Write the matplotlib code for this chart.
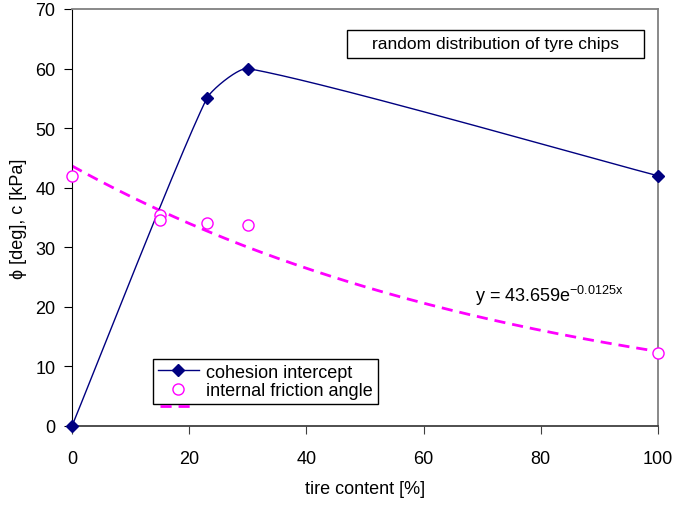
import matplotlib
matplotlib.use('Agg')
import matplotlib.pyplot as plt
from matplotlib.lines import Line2D
from matplotlib.patches import Rectangle
import numpy as np

plt.rcParams['font.family'] = ['Liberation Sans', 'DejaVu Sans']
plt.rcParams['mathtext.default'] = 'regular'

# cohesion intercept
tire_c = [0, 23, 30, 100]
cohesion = [0, 55, 60, 42]

# internal friction angle
tire_phi = [0, 15, 15, 23, 30, 100]
phi = [42, 35.5, 34.5, 34, 33.7, 12.3]

# exponential trendline y = a*exp(b*x)
trend_a = 43.659
trend_b = -0.0125


def smooth(xs, ys, n=60, t=0.18):
    # length-normalised bezier smoothing (no overshoot on uneven spacing)
    P = np.column_stack([np.asarray(xs, float) * 5.86, np.asarray(ys, float) * 5.96])
    out = []
    m = len(P)
    for i in range(m - 1):
        p0 = P[i - 1] if i > 0 else P[i]
        p1, p2 = P[i], P[i + 1]
        p3 = P[i + 2] if i + 2 < m else P[i + 1]
        seg = np.linalg.norm(p2 - p1)
        d1 = p2 - p0
        d2 = p3 - p1
        c1 = p1 + d1 / np.linalg.norm(d1) * seg * t
        c2 = p2 - d2 / np.linalg.norm(d2) * seg * t
        s = np.linspace(0, 1, n)[:, None]
        b = (1-s)**3*p1 + 3*(1-s)**2*s*c1 + 3*(1-s)*s**2*c2 + s**3*p2
        out.append(b)
    out = np.vstack(out)
    return out[:, 0] / 5.86, out[:, 1] / 5.96


fig = plt.figure(figsize=(6.74, 5.06), dpi=100)
ax = fig.add_axes([72/674, 1 - 427/506, 586/674, 417/506])

sx, sy = smooth(tire_c, cohesion)
ax.plot(sx, sy, color='#000080', lw=1, zorder=3)
ax.plot(tire_c, cohesion, ls='none', marker='D', ms=6, color='#000080',
        zorder=4, clip_on=False)

xt = np.linspace(0, 100, 200)
ax.plot(xt, trend_a * np.exp(trend_b * xt), color='#FF00FF', lw=2,
        ls=(0, (4, 2.5)), zorder=2)
ax.plot(tire_phi, phi, ls='none', marker='o', ms=8, mfc='white',
        mec='#FF00FF', mew=1, zorder=5, clip_on=False)

ax.set_xlim(0, 100)
ax.set_ylim(0, 70)
ax.set_xticks(range(0, 101, 20))
ax.set_yticks(range(0, 71, 10))
ax.tick_params(direction='out', length=6, labelsize=13, colors='black')
ax.tick_params(axis='x', pad=11, color='#404040')
ax.tick_params(axis='y', pad=6)
for s in ['top', 'right']:
    ax.spines[s].set_color('#808080')
    ax.spines[s].set_linewidth(1.3)
ax.spines['bottom'].set_color('#404040')
ax.spines['bottom'].set_linewidth(1.3)

ax.set_xlabel('tire content [%]', fontsize=13, labelpad=10)
ax.set_ylabel('\u03d5 [deg], c [kPa]', fontsize=13, labelpad=6)

h1 = Line2D([], [], color='#000080', lw=1, marker='D', ms=6)
h2 = Line2D([], [], ls='none', marker='o', ms=8, mfc='white', mec='#FF00FF')
leg = ax.legend([h1, h2], ['cohesion intercept', 'internal friction angle'],
                loc='lower left', bbox_to_anchor=(81/586, (427-405)/417),
                fontsize=13, frameon=True, fancybox=False, framealpha=1,
                edgecolor='black', borderpad=0.25, labelspacing=0.1,
                handlelength=2.3, handletextpad=0.4, borderaxespad=0)
leg.get_frame().set_linewidth(1)

# trendline legend entry that peeks out below the legend box
fig.lines.append(Line2D([160/674, 195/674], [1 - 407/506] * 2,
                        color='#FF00FF', lw=2, ls=(0, (4, 2.5)),
                        transform=fig.transFigure))

# title box
fig.patches.append(Rectangle((347/674, 1 - 59/506), 297/674, 28/506,
                             transform=fig.transFigure, fc='white',
                             ec='black', lw=1, zorder=6))
fig.text(495.5/674, 1 - 45/506, 'random distribution of tyre chips',
         fontsize=12.5, ha='center', va='center', zorder=7)
ax.text(68.8, 22.0, 'y = 43.659e$^{-0.0125x}$', fontsize=13, va='center')

fig.savefig('out.png', dpi=100)
